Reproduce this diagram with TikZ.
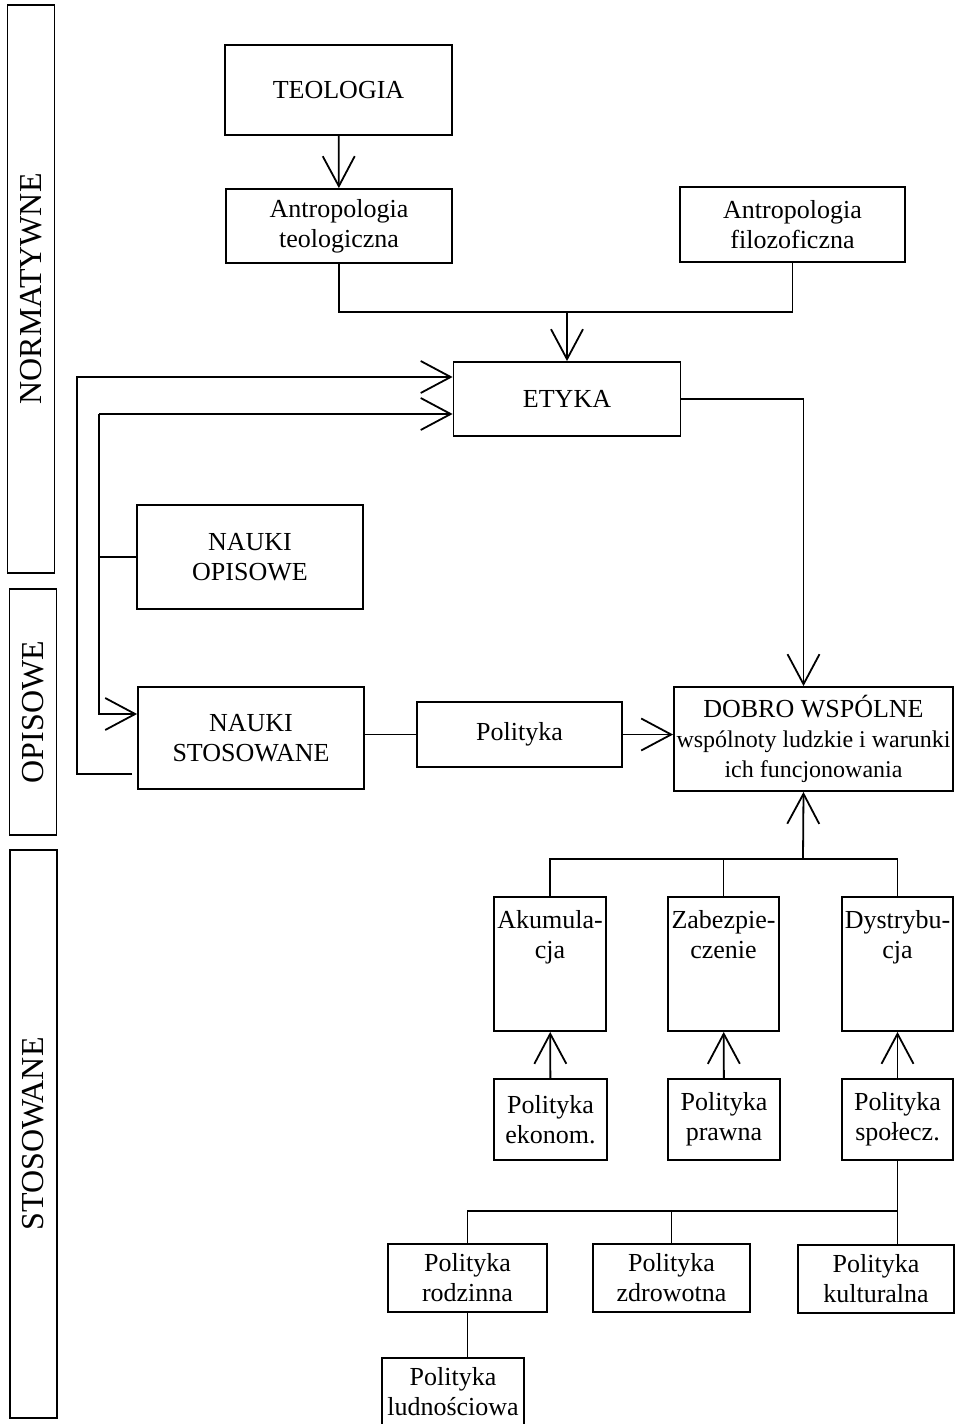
\documentclass[tikz,border=0pt]{standalone}
\usepackage{fontspec}
\setmainfont{Liberation Serif}
\usetikzlibrary{arrows.meta}

\begin{document}
\begin{tikzpicture}
  [x=0.5pt,y=-0.5pt,line width=0.9pt,>={Straight Barb[length=15pt,width=16pt]},
   box/.style={draw,align=center,inner sep=0pt,font=\fontsize{13}{15}\selectfont},
   band/.style={draw,rotate=90,inner sep=0pt,minimum height=23.5pt,font=\fontsize{16}{18}\selectfont}]
  \useasboundingbox (0,0) rectangle (956,1424);

  \node[band,minimum width=284pt] (bNorm) at (31,289) {NORMATYWNE};
  \node[band,minimum width=123pt] (bOpis) at (33,712) {OPISOWE};
  \node[band,minimum width=284pt] (bStos) at (33.5,1134) {STOSOWANE};

  \node[box,minimum width=113.5pt,minimum height=45pt] (teol) at (338.5,90) {TEOLOGIA};
  \node[box,minimum width=113pt,minimum height=37pt] (antteol) at (339,226) {Antropologia\\teologiczna};
  \node[box,minimum width=112.5pt,minimum height=37.5pt] (antfil) at (792.5,224.5) {Antropologia\\filozoficzna};
  \node[box,minimum width=113.5pt,minimum height=37pt] (etyka) at (567,399) {ETYKA};
  \node[box,minimum width=113pt,minimum height=52pt] (opis) at (250,557) {NAUKI\\OPISOWE};
  \node[box,minimum width=113pt,minimum height=51pt] (stos) at (251,738) {NAUKI\\STOSOWANE};
  \node[box,minimum width=102.5pt,minimum height=32.5pt] (polit) at (519.5,734.5) {Polityka};
  \node[box,minimum width=139.5pt,minimum height=52pt] (dobro) at (813.5,739)
    {DOBRO WSP\'OLNE\\{\fontsize{12}{15}\selectfont wsp\'olnoty ludzkie i warunki}\\{\fontsize{12}{15}\selectfont ich funcjonowania}};
  \node[box,minimum width=56pt,minimum height=67pt] (akum) at (550,964) {Akumula-\\cja\\~\\~};
  \node[box,minimum width=55.5pt,minimum height=67pt] (zabez) at (723.5,964) {Zabezpie-\\czenie\\~\\~};
  \node[box,minimum width=55.5pt,minimum height=67pt] (dystr) at (897.5,964) {Dystrybu-\\cja\\~\\~};
  \node[box,minimum width=56.5pt,minimum height=40.5pt] (ekon) at (550.5,1119.5) {Polityka\\ekonom.};
  \node[box,minimum width=56pt,minimum height=40.5pt] (praw) at (724,1119.5) {Polityka\\prawna};
  \node[box,minimum width=55.5pt,minimum height=40.5pt] (spol) at (897.5,1119.5) {Polityka\\spo\l{}ecz.};
  \node[box,minimum width=79.5pt,minimum height=34pt] (rodz) at (467.5,1278) {Polityka\\rodzinna};
  \node[box,minimum width=78.5pt,minimum height=34pt] (zdrow) at (671.5,1278) {Polityka\\zdrowotna};
  \node[box,minimum width=78pt,minimum height=34pt] (kult) at (876,1279) {Polityka\\kulturalna};
  \node[box,minimum width=71pt,minimum height=34pt] (lud) at (453,1392) {Polityka\\ludno\'sciowa};

  \coordinate (jn) at (567,312);
  \coordinate (outS) at (132,774);
  \coordinate (outN) at (77,377);
  \coordinate (inN) at (99,414);
  \coordinate (jb) at (803,859);
  \coordinate (jc) at (897.5,1211);

  \draw[->] (teol) -- (antteol);
  \draw (antteol.south) |- (jn) -| (antfil.south);
  \draw[->] (jn) -- (etyka);
  \draw[->] (outS) -| (outN) -- (outN -| etyka.west);
  \draw[->] (inN) -- (inN -| etyka.west);
  \draw (opis.west) -- (opis.west -| inN);
  \draw[->] (inN) |- ([yshift=12pt]stos.west);
  \draw (stos.east |- polit) -- (polit);
  \draw[->] (polit) -- (polit -| dobro.west);
  \draw[->] (etyka.east) -| ([xshift=-5pt]dobro.north);
  \draw[->] (jb) -- ([xshift=-5pt]dobro.south);
  \draw (akum.north) |- (jb) -| (dystr.north);
  \draw (zabez.north) -- (zabez.north |- jb);
  \foreach \from/\to in {ekon/akum, praw/zabez, spol/dystr}
    \draw[->] (\from) -- (\to);
  \draw (spol.south) -- (spol.south |- kult.north);
  \draw (rodz.north) |- (jc);
  \draw (zdrow.north) -- (zdrow.north |- jc);
  \draw (rodz.south) -- (rodz.south |- lud.north);

\end{tikzpicture}
\end{document}
